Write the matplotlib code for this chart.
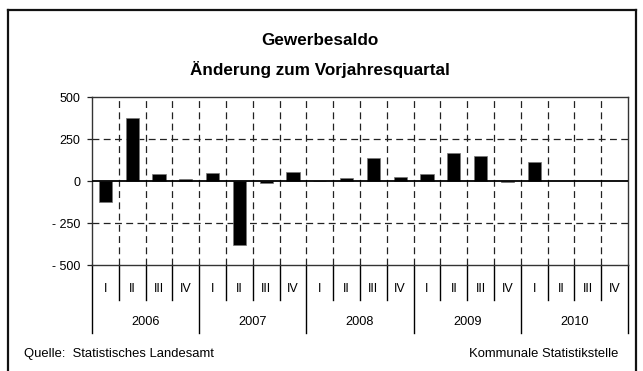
import numpy as np
import matplotlib
matplotlib.use("Agg")
import matplotlib.pyplot as plt
from matplotlib.lines import Line2D

plt.rcParams['font.family'] = ['Liberation Sans', 'DejaVu Sans']

years = ['2006', '2007', '2008', '2009', '2010']
quarters = ['I', 'II', 'III', 'IV']
saldo_2006 = [-125, 373, 40, 12]
saldo_2007 = [49, -381, -14, 55]
saldo_2008 = [0, 18, 139, 24]
saldo_2009 = [40, 167, 147, -8]
saldo_2010 = [111, np.nan, np.nan, np.nan]
y_ticks = [-500, -250, 0, 250, 500]
y_tick_labels = ['- 500', '- 250', '0', '250', '500']

values = np.array(saldo_2006 + saldo_2007 + saldo_2008 + saldo_2009 + saldo_2010, dtype=float)
n = len(values)
x = np.arange(n)

fig = plt.figure(figsize=(6.43, 3.71), dpi=100)
ax = fig.add_axes([92 / 643, 1 - 265 / 371, (628 - 92) / 643, (265 - 97) / 371])

# outer frame (open at the bottom)
for xs, ys in [([8 / 643, 8 / 643], [0, 1 - 10 / 371]),
               ([8 / 643, 636 / 643], [1 - 10 / 371, 1 - 10 / 371]),
               ([636 / 643, 636 / 643], [1 - 10 / 371, 0])]:
    fig.add_artist(Line2D(xs, ys, color='#111111', lw=1.6))

ax.set_xlim(-0.5, n - 0.5)
ax.set_ylim(-500, 500)

# dashed grid: category boundaries and +/-250
dash = (0, (5.5, 3.5))
for k in range(1, n):
    ax.axvline(k - 0.5, color='#222222', lw=0.9, linestyle=dash, zorder=1)
for yv in (-250, 250):
    ax.axhline(yv, color='#222222', lw=0.9, linestyle=dash, zorder=1)

ax.bar(x, values, width=0.49, color='black', edgecolor='#777777', lw=0.5, zorder=3)
ax.axhline(0, color='black', lw=1.3, zorder=4)

ax.set_yticks(y_ticks)
ax.set_yticklabels(y_tick_labels, fontsize=9)
ax.tick_params(axis='y', length=3.5, width=0.9, pad=5, color='#222222')
ax.set_xticks([])
for s in ax.spines.values():
    s.set_color('#333333')
    s.set_linewidth(1.0)

# category axis below the plot: quarter and year separators
for k in range(n + 1):
    bottom = -0.405 if k % 4 == 0 else -0.208
    ax.add_line(Line2D([k - 0.5, k - 0.5], [0, bottom], transform=ax.get_xaxis_transform(),
                       color='black', lw=1.0, clip_on=False))
for i in range(n):
    ax.text(x[i], -0.143, quarters[i % 4], transform=ax.get_xaxis_transform(),
            ha='center', va='center', fontsize=9)
for j, yr in enumerate(years):
    ax.text(j * 4 + 1.5, -0.34, yr, transform=ax.get_xaxis_transform(),
            ha='center', va='center', fontsize=9.2)

fig.text(320 / 643, 1 - 45 / 371, 'Gewerbesaldo', ha='center', va='baseline',
         fontsize=12.3, fontweight='bold')
fig.text(320 / 643, 1 - 75 / 371, 'Änderung zum Vorjahresquartal', ha='center', va='baseline',
         fontsize=12.3, fontweight='bold')

fig.text(24 / 643, 1 - 357 / 371, 'Quelle:  Statistisches Landesamt', ha='left', va='baseline', fontsize=9.4)
fig.text(618 / 643, 1 - 357 / 371, 'Kommunale Statistikstelle', ha='right', va='baseline', fontsize=9.4)

fig.savefig('out.png', dpi=100)
